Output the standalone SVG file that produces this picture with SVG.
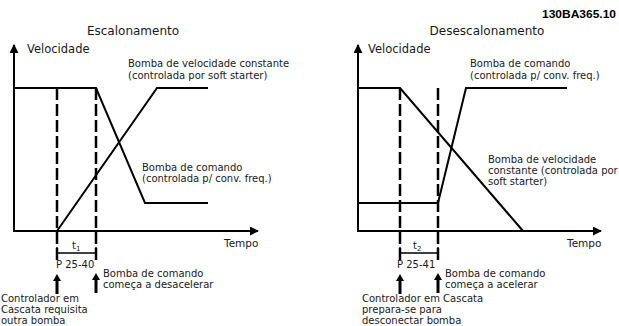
<svg xmlns="http://www.w3.org/2000/svg" width="619" height="326" viewBox="0 0 619 326">
  <style>
    .ln { fill: none; stroke: #000; stroke-width: 2; }
    .ds { fill: none; stroke: #000; stroke-width: 2.5; stroke-dasharray: 12 4; }
    .br { fill: none; stroke: #000; stroke-width: 1.5; }
    .t { font-family: "DejaVu Sans", Verdana, sans-serif; fill: #1a1a1a; }
    .ttl { font-size: 12px; text-anchor: middle; }
    .ax { font-size: 11.5px; }
    .tm { font-size: 10.5px; }
    .lb { font-size: 10px; }
    .code { font-family: "Liberation Sans", Arial, sans-serif; font-weight: bold; font-size: 10.5px; fill: #000; }
  </style>
  <defs>
    <marker id="ah" viewBox="0 0 10 10" refX="9" refY="5" markerWidth="4.5" markerHeight="4.5" orient="auto" markerUnits="strokeWidth">
      <path d="M0,0 L10,5 L0,10 Z" fill="#000"/>
    </marker>
    <symbol id="uparrow" overflow="visible">
      <polygon points="0,0 4,7 1.5,7 1.5,20 -1.5,20 -1.5,7 -4,7" fill="#000"/>
    </symbol>
  </defs>
  <rect width="619" height="326" fill="#fff"/>

  <text class="code" x="616" y="18" text-anchor="end" textLength="74" lengthAdjust="spacingAndGlyphs">130BA365.10</text>

  <!-- Left panel: Escalonamento -->
  <g id="panel-left">
    <text class="t ttl" x="133" y="35">Escalonamento</text>
    <g id="left-axes">
      <line class="ln" x1="14" y1="232" x2="14" y2="45" marker-end="url(#ah)"/>
      <line class="ln" x1="13" y1="231" x2="258" y2="231" marker-end="url(#ah)"/>
      <text class="t ax" x="27" y="53">Velocidade</text>
      <text class="t tm" x="224" y="247">Tempo</text>
    </g>
    <g id="left-curves">
      <polyline class="ln" points="14,88 96,88 145,203 208,203"/>
      <polyline class="ln" points="57,231 157,88 208,88"/>
      <line class="ds" x1="57" y1="88" x2="57" y2="261"/>
      <line class="ds" x1="96" y1="88" x2="96" y2="261"/>
    </g>
    <g id="left-interval">
      <path class="br" d="M57,253 H96 M57,247 V259 M96,247 V259"/>
      <text class="t lb" x="72" y="249">t<tspan font-size="7" dy="2">1</tspan></text>
      <text class="t lb" x="56" y="268">P 25-40</text>
    </g>
    <g id="left-labels">
      <text class="t lb" x="128" y="67">Bomba de velocidade constante</text>
      <text class="t lb" x="128" y="79">(controlada por soft starter)</text>
      <text class="t lb" x="142" y="171">Bomba de comando</text>
      <text class="t lb" x="142" y="182">(controlada p/ conv. freq.)</text>
    </g>
    <g id="left-events">
      <use href="#uparrow" x="57" y="274"/>
      <use href="#uparrow" x="96" y="273"/>
      <text class="t lb" x="103" y="277">Bomba de comando</text>
      <text class="t lb" x="103" y="288">começa a desacelerar</text>
      <text class="t lb" x="1" y="302">Controlador em</text>
      <text class="t lb" x="1" y="313">Cascata requisita</text>
      <text class="t lb" x="1" y="324">outra bomba</text>
    </g>
  </g>

  <!-- Right panel: Desescalonamento -->
  <g id="panel-right">
    <text class="t ttl" x="487" y="35">Desescalonamento</text>
    <g id="right-axes">
      <line class="ln" x1="358" y1="232" x2="358" y2="45" marker-end="url(#ah)"/>
      <line class="ln" x1="357" y1="231" x2="601" y2="231" marker-end="url(#ah)"/>
      <text class="t ax" x="368" y="53">Velocidade</text>
      <text class="t tm" x="567" y="247">Tempo</text>
    </g>
    <g id="right-curves">
      <polyline class="ln" points="358,88 400,88 523,231"/>
      <polyline class="ln" points="358,203 438,203 466,88 567,88"/>
      <line class="ds" x1="400" y1="88" x2="400" y2="261"/>
      <line class="ds" x1="438" y1="88" x2="438" y2="261"/>
    </g>
    <g id="right-interval">
      <path class="br" d="M400,253 H438 M400,247 V259 M438,247 V259"/>
      <text class="t lb" x="413" y="249">t<tspan font-size="7" dy="2">2</tspan></text>
      <text class="t lb" x="397" y="268">P 25-41</text>
    </g>
    <g id="right-labels">
      <text class="t lb" x="470" y="67">Bomba de comando</text>
      <text class="t lb" x="470" y="79">(controlada p/ conv. freq.)</text>
      <text class="t lb" x="488" y="163">Bomba de velocidade</text>
      <text class="t lb" x="488" y="174">constante (controlada por</text>
      <text class="t lb" x="488" y="185">soft starter)</text>
    </g>
    <g id="right-events">
      <use href="#uparrow" x="400" y="274"/>
      <use href="#uparrow" x="438" y="273"/>
      <text class="t lb" x="445" y="277">Bomba de comando</text>
      <text class="t lb" x="445" y="288">começa a acelerar</text>
      <text class="t lb" x="362" y="302">Controlador em Cascata</text>
      <text class="t lb" x="362" y="313">prepara-se para</text>
      <text class="t lb" x="362" y="324">desconectar bomba</text>
    </g>
  </g>
</svg>
